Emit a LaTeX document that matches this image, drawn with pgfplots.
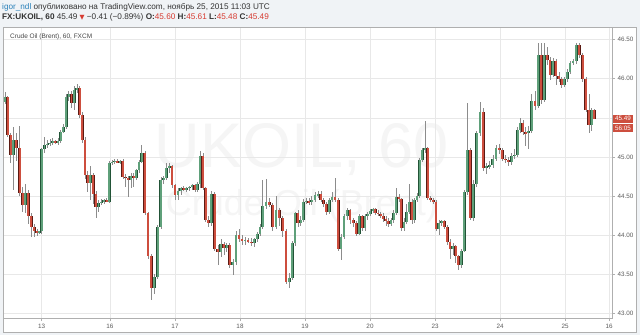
\documentclass[border=0pt]{standalone}
\usepackage{fontspec}
\setmainfont{Liberation Sans}
\newfontfamily\dejavu{DejaVu Sans}
\usepackage{pgfplots}
\pgfplotsset{compat=1.18}
\usepackage{pgfplotstable}

\definecolor{upfill}{RGB}{95,160,122}
\definecolor{upline}{RGB}{34,84,55}
\definecolor{dnfill}{RGB}{205,78,62}
\definecolor{dnline}{RGB}{91,26,19}
\definecolor{wick}{RGB}{140,140,140}
\definecolor{bggray}{RGB}{240,243,246}
\definecolor{framegray}{RGB}{175,175,175}
\definecolor{gridgray}{RGB}{232,232,232}
\definecolor{labelgray}{RGB}{90,90,90}
\definecolor{wmgray}{RGB}{245,245,245}
\definecolor{hdrtext}{RGB}{51,51,51}
\definecolor{userblue}{RGB}{41,128,185}
\definecolor{pricered}{RGB}{215,60,50}
\definecolor{titlegray}{RGB}{70,70,70}

\pgfplotstableread{
x o h l c
5.0 45.70 45.83 45.68 45.76
7.8 45.76 45.78 45.26 45.28
10.6 45.28 45.30 44.92 45.03
13.4 45.03 45.38 44.58 45.22
16.4 45.22 45.30 44.95 45.12
19.6 45.12 45.40 44.50 44.54
22.6 44.54 44.62 44.30 44.39
25.4 44.39 44.65 44.28 44.54
28.4 44.54 44.58 44.15 44.24
31.4 44.24 44.28 43.98 44.11
34.2 44.11 44.14 43.98 44.05
36.9 44.05 44.08 43.99 44.03
39.3 44.03 44.06 44.01 44.05
41.8 44.05 45.12 44.02 45.10
44.5 45.10 45.25 45.05 45.15
47.2 45.15 45.22 45.12 45.17
49.9 45.17 45.23 45.14 45.18
52.6 45.18 45.24 45.15 45.20
55.3 45.20 45.22 45.16 45.18
58.0 45.18 45.24 45.15 45.20
60.7 45.20 45.34 45.18 45.32
63.4 45.32 45.42 45.30 45.38
66.1 45.38 45.80 45.36 45.76
68.8 45.76 45.84 45.72 45.80
71.5 45.80 45.84 45.62 45.69
74.2 45.69 45.90 45.60 45.86
76.9 45.86 45.93 45.82 45.88
79.6 45.88 45.90 45.50 45.54
82.3 45.54 45.58 45.18 45.22
85.0 45.22 45.26 44.72 44.77
87.7 44.77 44.82 44.55 44.67
90.4 44.67 44.88 44.45 44.77
93.1 44.77 44.80 44.40 44.53
95.8 44.53 44.56 44.22 44.36
98.5 44.36 44.45 44.30 44.41
101.2 44.41 44.46 44.38 44.43
103.9 44.43 44.46 44.40 44.45
106.6 44.45 44.48 44.42 44.43
109.3 44.43 44.95 44.41 44.92
112.0 44.92 44.96 44.90 44.94
114.7 44.94 44.97 44.91 44.95
117.4 44.95 44.97 44.92 44.93
120.1 44.93 44.96 44.91 44.95
122.8 44.95 44.97 44.72 44.75
125.5 44.75 44.78 44.62 44.73
128.2 44.73 44.76 44.49 44.70
130.9 44.70 44.80 44.60 44.76
133.6 44.76 44.79 44.62 44.73
136.3 44.73 44.85 44.70 44.83
139.0 44.83 44.96 44.80 44.94
141.7 44.94 45.15 44.92 45.05
144.8 45.05 45.07 44.26 44.28
148.0 44.28 44.30 43.70 43.73
151.2 43.73 43.76 43.17 43.32
154.4 43.32 43.50 43.25 43.47
157.6 43.47 44.13 43.44 44.11
160.8 44.11 44.74 44.08 44.71
163.6 44.71 44.76 44.66 44.73
166.4 44.73 44.92 44.70 44.86
169.2 44.86 44.92 44.80 44.88
172.0 44.88 44.90 44.60 44.64
175.0 44.64 44.66 44.45 44.51
178.0 44.51 44.60 44.45 44.56
180.8 44.56 44.62 44.52 44.60
183.6 44.60 44.63 44.56 44.58
186.4 44.58 44.62 44.55 44.60
189.2 44.60 44.63 44.57 44.62
192.0 44.62 44.66 44.58 44.64
194.8 44.64 44.66 44.55 44.58
197.4 44.58 44.68 44.55 44.65
200.0 44.65 45.07 44.60 45.01
202.8 45.01 45.05 44.58 44.60
205.6 44.60 44.62 44.17 44.19
208.4 44.19 44.25 44.10 44.16
211.4 44.16 44.56 44.12 44.53
214.6 44.53 44.55 43.80 43.83
217.8 43.83 43.88 43.62 43.79
220.8 43.79 43.95 43.72 43.89
223.8 43.89 43.92 43.75 43.84
226.6 43.84 43.90 43.78 43.87
229.6 43.87 43.90 43.58 43.62
232.8 43.62 43.70 43.49 43.66
236.0 43.66 44.05 43.62 44.00
239.0 44.00 44.08 43.92 43.95
242.0 43.95 44.00 43.88 43.93
245.0 43.93 43.98 43.88 43.94
248.0 43.94 43.97 43.90 43.92
251.2 43.92 43.96 43.86 43.90
254.4 43.90 43.96 43.85 43.95
257.3 43.95 44.04 43.92 44.02
260.0 44.02 44.14 43.99 44.11
262.7 44.11 44.71 44.08 44.37
266.0 44.37 44.72 44.33 44.43
269.3 44.43 44.48 44.36 44.39
272.6 44.39 44.41 44.05 44.11
276.0 44.11 44.50 44.08 44.32
279.3 44.32 44.35 44.12 44.22
282.7 44.22 44.25 43.98 44.05
286.0 44.05 44.08 43.38 43.40
289.3 43.40 43.52 43.33 43.46
292.2 43.46 43.93 43.43 43.90
295.0 43.90 44.30 43.86 44.28
297.8 44.28 44.32 44.10 44.16
300.7 44.16 44.24 44.12 44.20
303.4 44.20 44.46 44.17 44.43
306.1 44.43 44.48 44.40 44.44
308.8 44.44 44.47 44.38 44.42
311.7 44.42 44.50 44.39 44.45
315.0 44.45 44.55 44.43 44.51
318.0 44.51 44.57 44.48 44.53
320.8 44.53 44.56 44.42 44.45
323.5 44.45 44.48 44.36 44.40
326.2 44.40 44.43 44.26 44.30
329.2 44.30 44.48 44.27 44.45
332.0 44.45 44.55 44.42 44.49
335.0 44.49 44.73 44.43 44.45
338.2 44.45 44.47 43.80 43.83
341.0 43.83 44.02 43.68 43.98
344.0 43.98 44.27 43.95 44.24
347.2 44.24 44.35 44.20 44.32
350.0 44.32 44.34 44.15 44.20
353.2 44.20 44.22 44.10 44.16
356.4 44.16 44.18 43.99 44.02
359.4 44.02 44.27 44.00 44.24
362.3 44.24 44.26 44.05 44.09
365.0 44.09 44.27 44.06 44.24
367.6 44.24 44.30 44.20 44.27
370.2 44.27 44.34 44.25 44.31
372.8 44.31 44.35 44.28 44.33
375.4 44.33 44.35 44.26 44.29
378.0 44.29 44.32 44.24 44.27
380.6 44.27 44.30 44.22 44.25
383.2 44.25 44.28 44.17 44.21
385.8 44.21 44.24 44.12 44.18
388.4 44.18 44.22 44.10 44.15
391.0 44.15 44.22 44.12 44.19
393.6 44.19 44.32 44.16 44.28
396.2 44.28 44.60 44.26 44.49
398.8 44.49 44.53 44.42 44.46
401.4 44.46 44.48 44.06 44.09
404.0 44.09 44.22 44.05 44.17
406.6 44.17 44.40 44.14 44.30
409.2 44.30 44.65 44.27 44.43
411.8 44.43 44.46 44.15 44.19
414.4 44.19 44.48 44.16 44.45
417.0 44.45 44.54 44.42 44.50
419.6 44.50 44.99 44.48 44.96
422.2 44.96 45.12 44.93 45.09
424.8 45.09 45.46 45.05 45.11
427.6 45.11 45.13 44.45 44.47
430.4 44.47 44.50 44.42 44.45
433.2 44.45 44.47 44.40 44.43
436.0 44.43 44.45 44.05 44.08
438.8 44.08 44.19 44.00 44.16
441.6 44.16 44.20 44.12 44.18
444.4 44.18 44.20 44.08 44.11
447.2 44.11 44.13 43.88 43.92
450.0 43.92 43.95 43.70 43.83
452.8 43.83 43.90 43.75 43.86
455.6 43.86 43.88 43.65 43.73
458.4 43.73 43.75 43.55 43.62
461.4 43.62 43.83 43.58 43.80
464.4 43.80 44.58 43.78 44.55
467.4 44.55 45.69 44.52 45.09
470.3 45.09 45.12 44.20 44.22
473.2 44.22 44.70 44.18 44.66
476.6 44.66 45.33 44.62 45.30
480.0 45.30 45.70 45.27 45.58
483.3 45.58 45.62 44.82 44.86
486.4 44.86 44.92 44.78 44.88
489.6 44.88 44.95 44.84 44.90
492.8 44.90 45.02 44.86 44.98
496.0 44.98 45.15 44.95 45.11
499.2 45.11 45.16 45.04 45.09
502.2 45.09 45.12 44.95 44.98
505.2 44.98 45.02 44.92 44.96
508.4 44.96 45.00 44.88 44.93
511.6 44.93 45.05 44.90 45.01
514.6 45.01 45.10 44.98 45.03
517.6 45.03 45.38 45.00 45.35
520.2 45.35 45.50 45.30 45.43
522.8 45.43 45.47 45.28 45.32
525.6 45.32 45.38 45.14 45.30
528.4 45.30 45.40 45.10 45.33
531.6 45.33 45.80 45.30 45.71
535.0 45.71 45.84 45.60 45.65
538.2 45.65 46.46 45.62 46.30
541.4 46.30 46.46 45.68 45.73
544.4 45.73 46.46 45.70 46.30
547.2 46.30 46.40 46.18 46.24
550.0 46.24 46.28 45.98 46.05
552.8 46.05 46.26 46.02 46.22
555.8 46.22 46.25 45.92 46.03
558.8 46.03 46.08 45.96 45.99
561.6 45.99 46.02 45.88 45.92
564.4 45.92 46.02 45.89 45.99
567.2 45.99 46.12 45.96 46.09
570.0 46.09 46.23 46.06 46.20
573.0 46.20 46.25 46.17 46.22
576.4 46.22 46.46 46.19 46.43
579.4 46.43 46.46 46.27 46.30
582.6 46.30 46.33 45.96 45.99
585.8 45.99 46.02 45.57 45.60
588.8 45.60 45.80 45.30 45.41
591.6 45.41 45.62 45.33 45.60
594.4 45.60 45.61 45.48 45.49
}\candles

\begin{document}
\begin{tikzpicture}[x=1pt,y=1pt]
\useasboundingbox (0,0) rectangle (640,335);
\fill[bggray] (0,0) rectangle (640,335);
\fill[white] (3,3) rectangle (636,308);
\draw[framegray, line width=0.8pt] (3,3) rectangle (636,308);
% watermark
\node[text=wmgray, font=\fontsize{63}{63}\selectfont] at (302,185) {UKOIL, 60};
\node[text=wmgray, font=\fontsize{36}{36}\selectfont] at (302,129) {Crude Oil (Brent)};
\begin{axis}[
  at={(3pt,17pt)}, anchor=south west,
  width=609pt, height=291pt, scale only axis,
  xmin=3, xmax=612, ymin=42.943, ymax=46.66,
  axis line style={draw=framegray, line width=0.8pt},
  xtick={41.7,110,175,240,305,370,435,500,565,609},
  xticklabels={13,16,17,18,19,20,23,24,25,16},
  ytick={43,43.5,44,44.5,45,45.5,46,46.5},
  yticklabels={43.00,43.50,44.00,44.50,45.00,{},46.00,46.50},
  xtick pos=left, ytick pos=right, yticklabel pos=right,
  tick align=outside, major tick length=3pt,
  tick style={draw=framegray, line width=0.5pt},
  grid=major, major grid style={draw=gridgray, line width=0.6pt},
  yticklabel style={font=\fontsize{6.3}{7}\selectfont, text=labelgray, xshift=-1pt},
  xticklabel style={font=\fontsize{6.3}{7}\selectfont, text=labelgray},
]
\addplot[draw=none, mark=none, forget plot,
  error bars/.cd, y dir=both, y explicit, error mark=none,
  error bar style={draw=wick, line width=0.6pt}]
  table[x=x, y expr={0.5*(\thisrow{h}+\thisrow{l})}, y error expr={0.5*(\thisrow{h}-\thisrow{l})}] {\candles};
\addplot[draw=none, mark=none, forget plot,
  error bars/.cd, y dir=both, y explicit, error mark=none,
  error bar style={draw=upline, line width=2.9pt}]
  table[x=x, y expr={\thisrow{c}>=\thisrow{o} ? 0.5*(\thisrow{o}+\thisrow{c}) : nan}, y error expr={0.5*abs(\thisrow{c}-\thisrow{o})}] {\candles};
\addplot[draw=none, mark=none, forget plot,
  error bars/.cd, y dir=both, y explicit, error mark=none,
  error bar style={draw=upfill, line width=1.9pt}]
  table[x=x, y expr={\thisrow{c}>=\thisrow{o} ? 0.5*(\thisrow{o}+\thisrow{c}) : nan}, y error expr={0.5*abs(\thisrow{c}-\thisrow{o})}] {\candles};
\addplot[draw=none, mark=none, forget plot,
  error bars/.cd, y dir=both, y explicit, error mark=none,
  error bar style={draw=dnline, line width=2.9pt}]
  table[x=x, y expr={\thisrow{c}<\thisrow{o} ? 0.5*(\thisrow{o}+\thisrow{c}) : nan}, y error expr={0.5*abs(\thisrow{c}-\thisrow{o})}] {\candles};
\addplot[draw=none, mark=none, forget plot,
  error bars/.cd, y dir=both, y explicit, error mark=none,
  error bar style={draw=dnfill, line width=1.9pt}]
  table[x=x, y expr={\thisrow{c}<\thisrow{o} ? 0.5*(\thisrow{o}+\thisrow{c}) : nan}, y error expr={0.5*abs(\thisrow{c}-\thisrow{o})}] {\candles};
\end{axis}
% header
\node[anchor=base west, inner sep=0pt, font=\fontsize{8.2}{9}\selectfont, text=hdrtext] at (2,325.5) {\textcolor{userblue}{igor\_ndl} опубликовано на TradingView.com, ноябрь 25, 2015 11:03 UTC};
\node[anchor=base west, inner sep=0pt, font=\fontsize{8.2}{9}\selectfont, text=hdrtext] at (2,315.5) {\textbf{FX:UKOIL, 60} 45.49 {\dejavu\fontsize{6.5}{7}\selectfont\textcolor{pricered}{▼}} −0.41 (−0.89\%) \textbf{O:}\textcolor{pricered}{45.60} \textbf{H:}\textcolor{pricered}{45.61} \textbf{L:}\textcolor{pricered}{45.48} \textbf{C:}\textcolor{pricered}{45.49}};
% title inside chart
\node[anchor=base west, inner sep=0pt, font=\fontsize{6.5}{7}\selectfont, text=titlegray] at (10,296.5) {Crude Oil (Brent), 60, FXCM};
% current price markers
\node[anchor=west, fill=dnfill, text=white, inner xsep=1.8pt, inner ysep=0pt, minimum height=8pt, font=\fontsize{6.3}{7}\selectfont] at (613,216.4) {45.49};
\node[anchor=west, fill=dnfill, text=white, inner xsep=1.8pt, inner ysep=0pt, minimum height=8pt, font=\fontsize{6.3}{7}\selectfont] at (613,206.6) {56:05};
\end{tikzpicture}
\end{document}
